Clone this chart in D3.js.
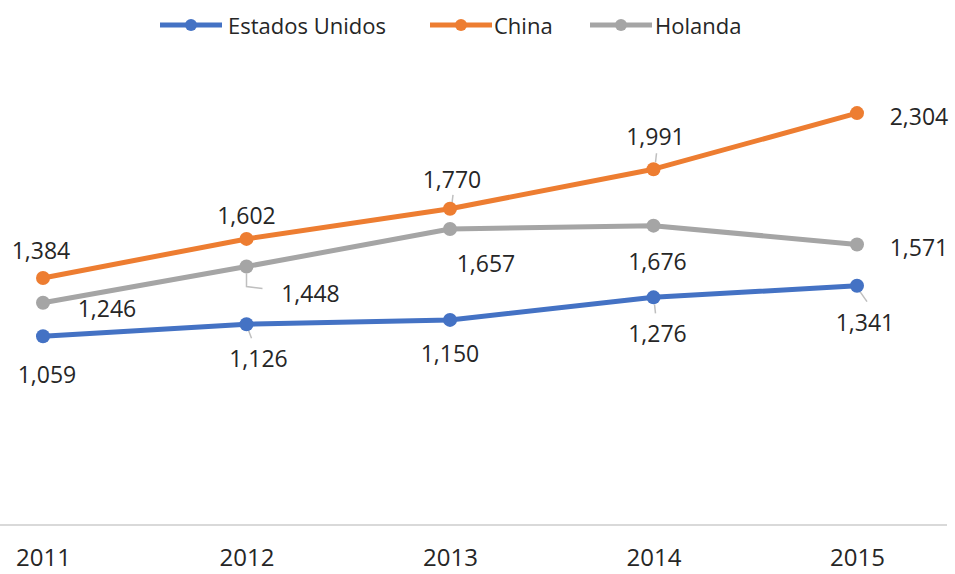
<!DOCTYPE html>
<html>
<head>
<meta charset="utf-8">
<script src="https://cdn.jsdelivr.net/npm/d3@7/dist/d3.min.js"></script>
<style>
  html, body { margin: 0; padding: 0; background: #fff; }
  svg { display: block; }
  text { font-family: "Open Sans", "Noto Sans", sans-serif; fill: #262626; }
</style>
</head>
<body>
<svg id="chart" width="955" height="574"></svg>
<script>
// Categories and series values
const years = ["2011", "2012", "2013", "2014", "2015"];
const estadosUnidos = [1059, 1126, 1150, 1276, 1341];
const china = [1384, 1602, 1770, 1991, 2304];
const holanda = [1246, 1448, 1657, 1676, 1571];
const seriesNames = ["Estados Unidos", "China", "Holanda"];
const seriesColors = ["#4472C4", "#ED7D31", "#A5A5A5"];

// Label placement per series and year: [dx, dy] from the point (layout only)
const labelOffsets = [
  [[4, 38], [12, 34], [0, 33], [4, 36], [8, 36]],
  [[-2, -28], [0, -24], [2, -30], [2, -33], [62, 3]],
  [[64, 5], [64, 26], [36, 34], [4, 35], [62, 3]]
];

// Leader lines from a point toward its label: series, year index, path offsets
const leaders = [
  { s: 0, i: 1, pts: [[2, 6], [5, 14]] },
  { s: 0, i: 3, pts: [[1, 7], [2, 16]] },
  { s: 0, i: 4, pts: [[3, 6], [10, 16]] },
  { s: 1, i: 2, pts: [[2, -6], [3, -14]] },
  { s: 1, i: 3, pts: [[2, -7], [3, -16]] },
  { s: 2, i: 1, pts: [[0, 7], [0, 20], [16, 22]] }
];

const svg = d3.select("#chart");

const x = d3.scalePoint().domain(years).range([43, 857]);
const y = d3.scaleLinear().domain([0, 2500]).range([526, 78]);

// Horizontal category axis line
svg.append("line")
  .attr("x1", 0).attr("x2", 947)
  .attr("y1", y(0) - 1).attr("y2", y(0) - 1)
  .attr("stroke", "#d9d9d9").attr("stroke-width", 2);

// Category labels
const xAxis = d3.axisBottom(x).tickSize(0).tickPadding(0);
const gx = svg.append("g").attr("transform", `translate(0, ${y(0)})`).call(xAxis);
gx.select(".domain").remove();
gx.selectAll("text")
  .attr("dy", 0).attr("y", 40)
  .style("font-size", "24px")
  .style("font-family", "'Open Sans', sans-serif")
  .attr("fill", "#262626");

const allSeries = [estadosUnidos, china, holanda];

// Leader lines (drawn beneath the series)
const leaderGroup = svg.append("g");
leaders.forEach(l => {
  const cx = x(years[l.i]), cy = y(allSeries[l.s][l.i]);
  const path = d3.path();
  path.moveTo(cx + l.pts[0][0], cy + l.pts[0][1]);
  l.pts.slice(1).forEach(p => path.lineTo(cx + p[0], cy + p[1]));
  leaderGroup.append("path")
    .attr("d", path.toString())
    .attr("fill", "none")
    .attr("stroke", "#bfbfbf")
    .attr("stroke-width", 1.5);
});

const line = d3.line()
  .x((d, i) => x(years[i]))
  .y(d => y(d));

allSeries.forEach((vals, s) => {
  const g = svg.append("g");
  g.append("path")
    .datum(vals)
    .attr("d", line)
    .attr("fill", "none")
    .attr("stroke", seriesColors[s])
    .attr("stroke-width", 5)
    .attr("stroke-linejoin", "round")
    .attr("stroke-linecap", "round");
  g.selectAll("circle")
    .data(vals)
    .join("circle")
    .attr("cx", (d, i) => x(years[i]))
    .attr("cy", d => y(d))
    .attr("r", 7)
    .attr("fill", seriesColors[s]);
});

// Data labels
const fmt = d3.format(",");
allSeries.forEach((vals, s) => {
  svg.append("g").selectAll("text")
    .data(vals)
    .join("text")
    .attr("x", (d, i) => x(years[i]) + labelOffsets[s][i][0])
    .attr("y", (d, i) => y(d) + labelOffsets[s][i][1])
    .attr("text-anchor", "middle")
    .attr("dominant-baseline", "central")
    .style("font-size", "23px")
    .text(d => fmt(d));
});

// Legend
const legendItems = [
  { x: 160, textX: 228 },
  { x: 430, textX: 494 },
  { x: 590, textX: 655 }
];
const legend = svg.append("g");
seriesNames.forEach((name, s) => {
  const it = legendItems[s];
  legend.append("line")
    .attr("x1", it.x).attr("x2", it.x + 62)
    .attr("y1", 25).attr("y2", 25)
    .attr("stroke", seriesColors[s]).attr("stroke-width", 5);
  legend.append("circle")
    .attr("cx", it.x + 31).attr("cy", 25).attr("r", 6)
    .attr("fill", seriesColors[s]);
  legend.append("text")
    .attr("x", it.textX).attr("y", 25)
    .attr("dominant-baseline", "central")
    .style("font-size", "22px")
    .text(name);
});
</script>
</body>
</html>
